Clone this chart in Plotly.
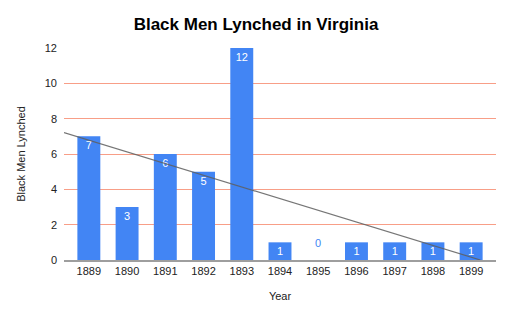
import plotly.graph_objects as go

years = ["1889", "1890", "1891", "1892", "1893", "1894", "1895", "1896", "1897", "1898", "1899"]
lynched = [7, 3, 6, 5, 12, 1, 0, 1, 1, 1, 1]
# trendline as drawn in the reference (value at first year, change per year)
trend_intercept = 6.78
trend_slope = -0.662

x_lo, x_hi = -0.65, len(years) - 1 + 0.65
x_end = min(x_hi, trend_intercept / -trend_slope)

fig = go.Figure()
fig.add_trace(go.Bar(
    x=list(range(len(years))), y=lynched,
    width=0.6,
    marker=dict(color="#4285F4", line=dict(color="#4285F4", width=0)),
    text=[str(v) if v > 0 else "" for v in lynched],
    textposition="inside", insidetextanchor="end", textangle=0,
    insidetextfont=dict(color="white", size=11, family="Liberation Sans, Arial"),
    constraintext="none",
    hoverinfo="skip",
))
fig.add_trace(go.Scatter(
    x=[x_lo, x_end],
    y=[trend_intercept + trend_slope * x_lo, trend_intercept + trend_slope * x_end],
    mode="lines", line=dict(color="#5f5f5f", width=1.2),
    opacity=0.85,
    hoverinfo="skip", cliponaxis=True,
))
for i, v in enumerate(lynched):
    if v == 0:
        fig.add_annotation(x=i, y=v, text="0", showarrow=False, yshift=17,
                           font=dict(color="#4285F4", size=11, family="Liberation Sans, Arial"))

fig.update_layout(
    width=512, height=317,
    margin=dict(l=64, r=16, t=48, b=57),
    paper_bgcolor="white", plot_bgcolor="white",
    showlegend=False,
    font=dict(family="Liberation Sans, Arial", color="#222222", size=11),
    title=dict(text="<b>Black Men Lynched in Virginia</b>", x=0.5, xanchor="center",
               y=0.925, yanchor="middle",
               font=dict(size=17, color="black", family="Liberation Sans, Arial")),
    xaxis=dict(
        range=[x_lo, x_hi],
        tickmode="array", tickvals=list(range(len(years))), ticktext=years,
        showgrid=False, zeroline=False,
        showline=True, linecolor="#9e9e9e", linewidth=1.5,
        ticks="", tickfont=dict(size=11, color="#222222"),
        title=dict(text="Year", font=dict(size=11, color="#222222"), standoff=16),
        fixedrange=True,
    ),
    yaxis=dict(
        range=[0, 12], tickvals=[0, 2, 4, 6, 8, 10, 12],
        showgrid=True, gridcolor="#f89e87", gridwidth=1,
        zeroline=False, showline=False, ticks="",
        ticklabelstandoff=6,
        tickfont=dict(size=11, color="#222222"),
        title=dict(text="Black Men Lynched", font=dict(size=11, color="#222222"), standoff=16),
        fixedrange=True,
    ),
)

fig.write_html("out.html")
